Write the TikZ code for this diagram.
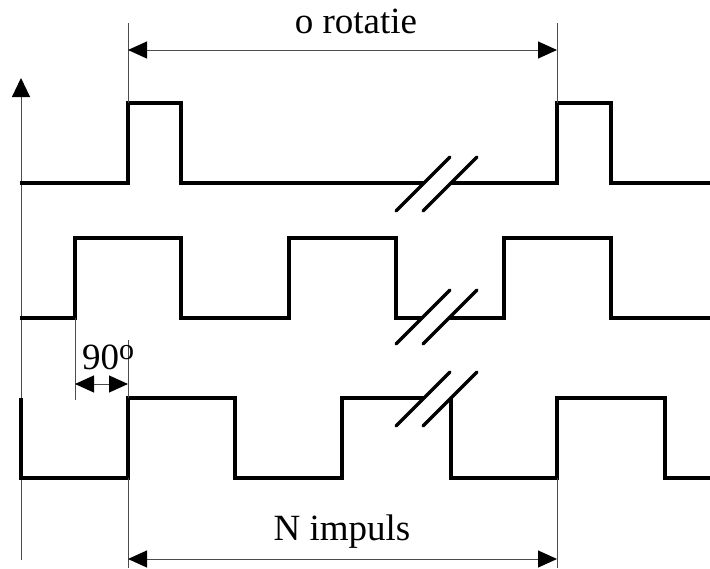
\documentclass[tikz,border=0pt]{standalone}
\usepackage{fontspec}
\setmainfont{Liberation Serif}
\usetikzlibrary{arrows.meta}
\begin{document}
\begin{tikzpicture}[x=1pt,y=-1pt,
  signal/.style={line width=3.4pt,line join=miter,line cap=butt},
  breakmark/.style={line width=3.2pt,line cap=round},
  thin/.style={line width=1pt,black!70},
  dimarrow/.style={thin,{Triangle[length=19pt,width=17pt,black]}-{Triangle[length=19pt,width=17pt,black]}},
  lbl/.style={font=\fontsize{37}{44}\selectfont,inner sep=0pt}]
\useasboundingbox (0,0) rectangle (710,568);
% axis
\coordinate (ax0) at (21,560);
\coordinate (ax1) at (21,78);
\draw[thin,-{Triangle[length=19pt,width=18pt,black]}] (ax0) -- (ax1);
% row 1
\draw[signal] (20,183) -- (128,183) -- (128,103) -- (181,103) -- (181,183) -- (424,183);
\draw[signal] (451,183) -- (557,183) -- (557,103) -- (611,103) -- (611,183) -- (710,183);
\draw[breakmark] (396,211) -- (450,157);
\draw[breakmark] (423,211) -- (477,157);
% row 2
\draw[signal] (20,318) -- (75,318) -- (75,238) -- (181,238) -- (181,318) -- (289,318) -- (289,238) -- (396,238) -- (396,318) -- (422,318);
\draw[signal] (449,318) -- (504,318) -- (504,238) -- (611,238) -- (611,318) -- (710,318);
\draw[breakmark] (396,344) -- (450,290);
\draw[breakmark] (423,344) -- (477,290);
% row 3
\draw[signal] (21,398) -- (21,478) -- (128,478) -- (128,398) -- (235,398) -- (235,478) -- (342,478) -- (342,398) -- (424,398);
\draw[signal] (451,398) -- (451,478) -- (557,478) -- (557,398) -- (665,398) -- (665,478) -- (710,478);
\draw[breakmark] (396,426) -- (450,372);
\draw[breakmark] (423,426) -- (477,372);
% top dimension
\draw[thin] (128,23) -- (128,103);
\draw[thin] (557,23) -- (557,103);
\coordinate (ta) at (128,50);
\coordinate (tb) at (557,50);
\draw[dimarrow] (ta) -- (tb);
\node[lbl,anchor=base] (rot) at (356,33) {o rotatie};
% 90 degree dimension
\draw[thin] (75,318) -- (75,400);
\draw[thin] (128,340) -- (128,398);
\coordinate (na) at (75,384);
\coordinate (nb) at (128,384);
\draw[dimarrow] (na) -- (nb);
\node[lbl,anchor=base west] (deg) at (82,369) {90\raisebox{0.55ex}{\fontsize{30}{30}\selectfont o}};
% bottom dimension
\draw[thin] (128,478) -- (128,568);
\draw[thin] (557,478) -- (557,568);
\coordinate (ba) at (128,559);
\coordinate (bb) at (557,559);
\draw[dimarrow] (ba) -- (bb);
\node[lbl,anchor=base] (imp) at (342,540) {N impuls};
\end{tikzpicture}
\end{document}
